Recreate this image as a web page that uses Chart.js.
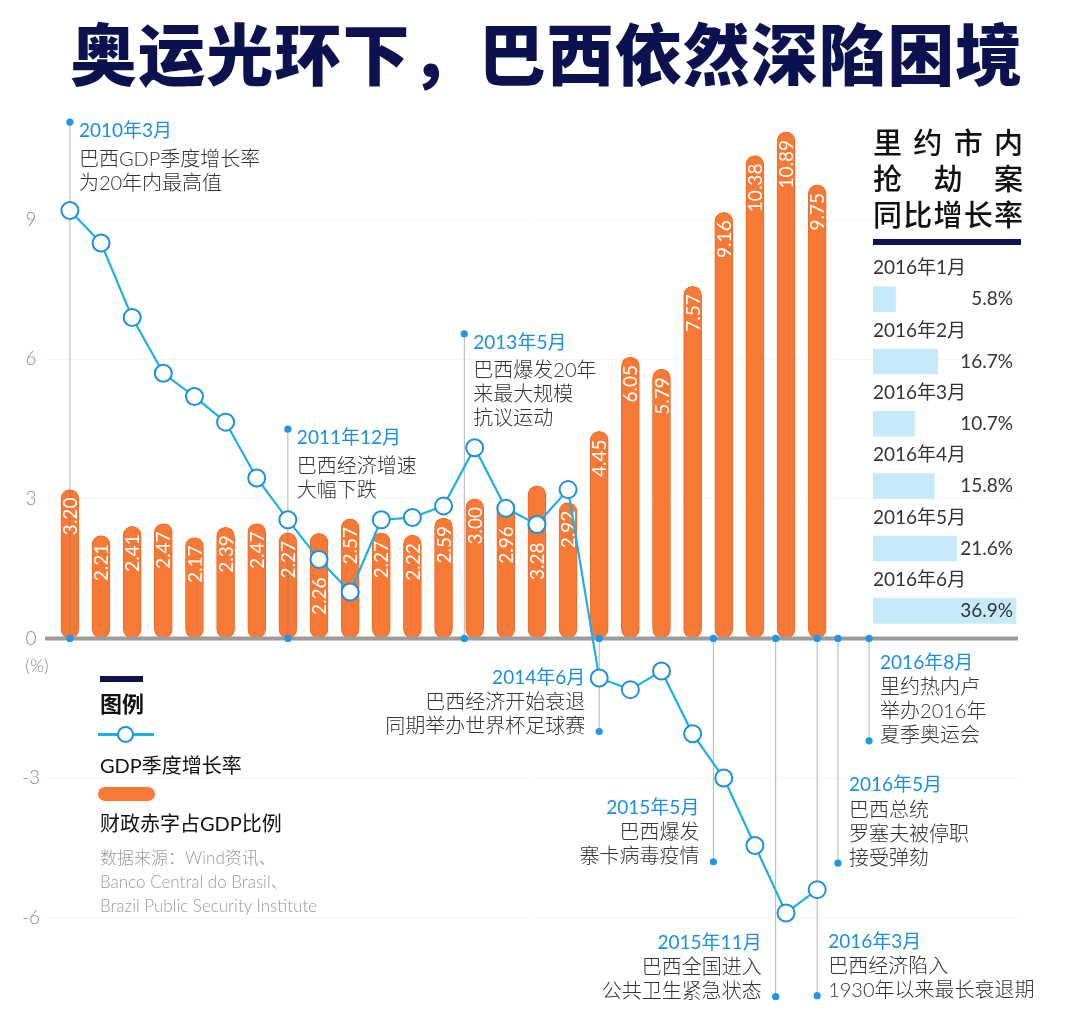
<!DOCTYPE html>
<html>
<head>
<meta charset="utf-8">
<script src="https://cdn.jsdelivr.net/npm/chart.js@4.4.1/dist/chart.umd.min.js"></script>
<style>
  body { margin: 0; background: #fff; width: 1071px; height: 1027px; overflow: hidden; position: relative;
         font-family: Lato, 'Noto Sans CJK SC', sans-serif; }
  canvas { position: absolute; }
  #main { left: 0; top: 0; }
  #robbery { left: 873px; top: 230px; }
  .abs { position: absolute; white-space: nowrap; }
  #title { left: 70px; top: 14px; font-size: 67px; line-height: 80px; font-weight: 900; color: #0c1150; letter-spacing: 1.1px; }
  #panelTitle { left: 873px; top: 125px; width: 150px; font-size: 29px; line-height: 36px; color: #111; font-weight: 500; }
  #panelTitle div { text-align: justify; text-align-last: justify; }
  #panelRule { left: 873px; top: 239px; width: 148px; height: 6px; background: #0d1450; }
  .lg-text { font-size: 20px; line-height: 26px; color: #111; }
</style>
</head>
<body>
<div id="title" class="abs">奥运光环下，巴西依然深陷困境</div>
<canvas id="main" width="1071" height="1027"></canvas>

<div id="panelTitle" class="abs">
  <div>里约市内</div>
  <div>抢劫案</div>
  <div>同比增长率</div>
</div>
<div id="panelRule" class="abs"></div>
<canvas id="robbery" width="150" height="412"></canvas>

<!-- legend -->
<div class="abs" style="left:100px;top:676px;width:43px;height:6px;background:#0d1248"></div>
<div class="abs" style="left:100px;top:691px;font-size:22px;line-height:26px;font-weight:700;color:#111">图例</div>
<div class="abs" style="left:98px;top:733px;width:56px;height:3px;background:#1cb0ea"></div>
<div class="abs" style="left:117px;top:726px;width:13px;height:13px;border:2px solid #1e8fe0;border-radius:50%;background:#fff"></div>
<div class="abs lg-text" style="left:100px;top:752px">GDP季度增长率</div>
<div class="abs" style="left:98px;top:787px;width:57px;height:14px;border-radius:7px;background:#f67a36"></div>
<div class="abs lg-text" style="left:100px;top:810px">财政赤字占GDP比例</div>
<div class="abs" style="left:100px;top:846px;font-size:17px;line-height:24px;color:#9a9a9a;font-weight:300">
  数据来源：Wind资讯、<br>Banco Central do Brasil、<br>Brazil Public Security Institute
</div>

<script>
// quarterly data, 2010Q1 - 2016Q1
const quarters = [
  '2010Q1', '2010Q2', '2010Q3', '2010Q4', '2011Q1', '2011Q2', '2011Q3', '2011Q4',
  '2012Q1', '2012Q2', '2012Q3', '2012Q4', '2013Q1', '2013Q2', '2013Q3', '2013Q4',
  '2014Q1', '2014Q2', '2014Q3', '2014Q4', '2015Q1', '2015Q2', '2015Q3', '2015Q4', '2016Q1'
];
const deficit = [
  3.20, 2.21, 2.41, 2.47, 2.17, 2.39, 2.47, 2.27, 2.26, 2.57, 2.27, 2.22, 2.59,
  3.00, 2.96, 3.28, 2.92, 4.45, 6.05, 5.79, 7.57, 9.16, 10.38, 10.89, 9.75
];
const gdpGrowth = [
  9.2, 8.5, 6.9, 5.7, 5.2, 4.65, 3.45, 2.55, 1.7, 1.0, 2.55, 2.6, 2.85,
  4.1, 2.8, 2.45, 3.2, -0.85, -1.1, -0.7, -2.05, -3.0, -4.45, -5.9, -5.4
];
const yTicks = [-6, -3, 0, 3, 6, 9];

const robberyMonths = ['2016年1月', '2016年2月', '2016年3月', '2016年4月', '2016年5月', '2016年6月'];
const robberyGrowth = [5.8, 16.7, 10.7, 15.8, 21.6, 36.9];

// event notes: date, how far the leader line reaches (in % units), text side
const notes = [
  { year: 2010, month: 3,  reach: 11.1,  side: 'right', date: '2010年3月',  lines: ['巴西GDP季度增长率', '为20年内最高值'] },
  { year: 2011, month: 12, reach: 4.5,   side: 'right', date: '2011年12月', lines: ['巴西经济增速', '大幅下跌'] },
  { year: 2013, month: 5,  reach: 6.55,  side: 'right', date: '2013年5月',  lines: ['巴西爆发20年', '来最大规模', '抗议运动'] },
  { year: 2014, month: 6,  reach: -2.0,  side: 'left',  date: '2014年6月',  lines: ['巴西经济开始衰退', '同期举办世界杯足球赛'] },
  { year: 2015, month: 5,  reach: -4.8,  side: 'left',  date: '2015年5月',  lines: ['巴西爆发', '寨卡病毒疫情'] },
  { year: 2015, month: 11, reach: -7.7,  side: 'left',  date: '2015年11月', lines: ['巴西全国进入', '公共卫生紧急状态'] },
  { year: 2016, month: 3,  reach: -7.68, side: 'right', date: '2016年3月',  lines: ['巴西经济陷入', '1930年以来最长衰退期'] },
  { year: 2016, month: 5,  reach: -4.83, side: 'right', date: '2016年5月',  lines: ['巴西总统', '罗塞夫被停职', '接受弹劾'] },
  { year: 2016, month: 8,  reach: -2.2,  side: 'right', date: '2016年8月',  lines: ['里约热内卢', '举办2016年', '夏季奥运会'] }
];

const FONT = "Lato, 'Noto Sans CJK SC', sans-serif";

// month -> position on the quarter axis (index 0 = March 2010)
const monthPos = (y, m) => (y - 2010) * 4 + (m - 3) / 3;

/**
 * Draws baseline, event leader lines and the rotated bar values
 * right after the bars, so the GDP line stays on top.
 */
const marksPlugin = {
    id: 'marks',
    afterDatasetDraw(chart, args) {
        if (args.index !== 0) return;
        const { ctx, chartArea } = chart;
        const xs = chart.scales.x, ys = chart.scales.y;
        const y0 = ys.getPixelForValue(0);

        ctx.save();
        // zero baseline
        ctx.strokeStyle = '#9c9c9c';
        ctx.lineWidth = 4;
        ctx.beginPath();
        ctx.moveTo(chartArea.left, y0);
        ctx.lineTo(chartArea.right, y0);
        ctx.stroke();

        // leader lines
        notes.forEach((n) => {
            const px = xs.getPixelForValue(monthPos(n.year, n.month));
            const py = ys.getPixelForValue(n.reach);
            ctx.strokeStyle = 'rgba(120,120,120,0.55)';
            ctx.lineWidth = 1;
            ctx.beginPath();
            ctx.moveTo(px, y0);
            ctx.lineTo(px, py);
            ctx.stroke();
            ctx.fillStyle = '#2196e8';
            [y0, py].forEach((yy) => {
                ctx.beginPath();
                ctx.arc(px, yy, 3.6, 0, Math.PI * 2);
                ctx.fill();
            });
        });

        // bar values, rotated; pushed below the GDP marker when it sits on the label
        const pts = chart.getDatasetMeta(1).data;
        ctx.fillStyle = '#fff';
        ctx.font = '19px ' + FONT;
        ctx.textAlign = 'right';
        ctx.textBaseline = 'middle';
        chart.getDatasetMeta(0).data.forEach((bar, i) => {
            let start = bar.y + 8;
            const p = pts[i];
            if (p && p.y + 10 > start && p.y - 10 < start + 40) start = p.y + 18;
            ctx.save();
            ctx.translate(bar.x + 1, start);
            ctx.rotate(-Math.PI / 2);
            ctx.fillText(deficit[i].toFixed(2), 0, 0);
            ctx.restore();
        });
        ctx.restore();
    },
    afterDraw(chart) {
        const { ctx } = chart;
        const xs = chart.scales.x, ys = chart.scales.y;
        ctx.save();
        ctx.textBaseline = 'middle';

        notes.forEach((n) => {
            const px = xs.getPixelForValue(monthPos(n.year, n.month));
            const py = ys.getPixelForValue(n.reach);
            let dateY, firstY;
            if (n.reach > 0) {
                dateY = py + 9;
                firstY = dateY + 28;
            } else {
                firstY = py - 5 - (n.lines.length - 1) * 24;
                dateY = firstY - 25;
            }
            let tx = px + 9;
            ctx.textAlign = 'left';
            if (n.reach < 0 && n.side === 'left') { tx = px - 14; ctx.textAlign = 'right'; }
            if (n.reach < 0 && n.side === 'right') tx = px + 11;

            ctx.fillStyle = '#1a8ee0';
            ctx.font = '19px ' + FONT;
            ctx.fillText(n.date, tx, dateY);
            ctx.fillStyle = '#333';
            ctx.font = '300 20px ' + FONT;
            n.lines.forEach((t, k) => ctx.fillText(t, tx, firstY + k * 24));
        });

        // unit under the zero tick
        ctx.fillStyle = '#8a8a8a';
        ctx.font = '300 18px ' + FONT;
        ctx.textAlign = 'center';
        ctx.fillText('(%)', 37, ys.getPixelForValue(0) + 28);
        ctx.restore();
    }
};

const drawMainChart = () => {
    const element = document.getElementById('main');
    return new Chart(element, {
        data: {
            datasets: [
                {
                    type: 'bar',
                    label: '财政赤字占GDP比例',
                    data: deficit.map((v, i) => ({ x: i, y: v })),
                    backgroundColor: '#f67a36',
                    borderColor: '#eb6c2b',
                    borderWidth: 1,
                    borderRadius: 9,
                    borderSkipped: false,
                    barThickness: 18,
                    order: 2
                },
                {
                    type: 'line',
                    label: 'GDP季度增长率',
                    data: gdpGrowth.map((v, i) => ({ x: i, y: v })),
                    borderColor: '#1cb0ea',
                    borderWidth: 2.2,
                    pointRadius: 8.5,
                    pointBorderWidth: 2,
                    pointBorderColor: '#1e8fe0',
                    pointBackgroundColor: '#fff',
                    tension: 0,
                    order: 1
                }
            ]
        },
        options: {
            responsive: false,
            animation: false,
            layout: { padding: { left: 0, right: 53, top: 103.5, bottom: 7 } },
            plugins: { legend: { display: false }, tooltip: { enabled: false } },
            scales: {
                x: { type: 'linear', min: -0.8, max: 30.45, offset: false, display: false },
                y: {
                    min: -8,
                    max: 11.5,
                    afterBuildTicks: (scale) => { scale.ticks = yTicks.map((v) => ({ value: v })); },
                    afterFit: (scale) => { scale.width = 45; },
                    border: { display: false },
                    grid: {
                        drawTicks: false,
                        color: (c) => (c.tick && c.tick.value === 0 ? 'rgba(0,0,0,0)' : 'rgba(0,0,0,0.035)')
                    },
                    ticks: {
                        color: '#8a8a8a',
                        font: { family: FONT, size: 19, weight: 300 },
                        crossAlign: 'center',
                        padding: 5
                    }
                }
            }
        },
        plugins: [marksPlugin]
    });
};

const robberyLabels = {
    id: 'robberyLabels',
    afterDatasetsDraw(chart) {
        const { ctx, chartArea } = chart;
        ctx.save();
        ctx.fillStyle = '#333';
        ctx.font = '19px ' + FONT;
        ctx.textBaseline = 'middle';
        chart.getDatasetMeta(0).data.forEach((bar, i) => {
            ctx.textAlign = 'left';
            ctx.fillText(robberyMonths[i], chartArea.left, bar.y - 31);
            ctx.textAlign = 'right';
            ctx.fillText(robberyGrowth[i].toFixed(1) + '%', chartArea.left + 140, bar.y);
        });
        ctx.restore();
    }
};

const drawRobberyChart = () => {
    const element = document.getElementById('robbery');
    return new Chart(element, {
        type: 'bar',
        data: {
            labels: robberyMonths,
            datasets: [{
                data: robberyGrowth,
                backgroundColor: '#c7eafb',
                barThickness: 25
            }]
        },
        options: {
            indexAxis: 'y',
            responsive: false,
            animation: false,
            layout: { padding: { top: 38, left: 0, right: 0, bottom: 0 } },
            plugins: { legend: { display: false }, tooltip: { enabled: false } },
            scales: {
                x: { min: 0, max: 38.7, display: false },
                y: { display: false }
            }
        },
        plugins: [robberyLabels]
    });
};

drawMainChart();
drawRobberyChart();
</script>
</body>
</html>
